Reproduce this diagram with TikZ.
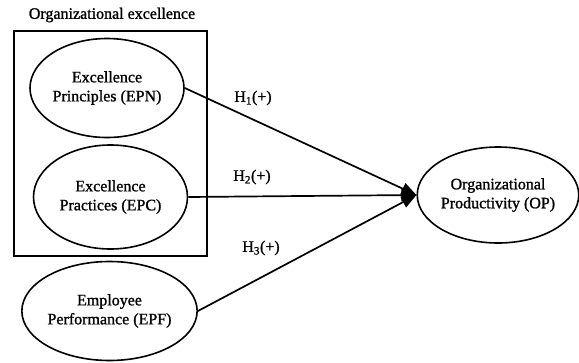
\documentclass[tikz,border=0pt]{standalone}
\usepackage{fontspec}
\setmainfont{Liberation Serif}[FakeBold=1.2]
\usetikzlibrary{shapes.geometric,arrows.meta}
\begin{document}
\begin{tikzpicture}[x=1pt,y=-1pt,
  every node/.style={font=\fontsize{16}{19}\selectfont},
  construct/.style={draw, line width=1.6pt, ellipse, inner sep=0pt, align=center,
    minimum width=154pt, minimum height=99pt},
  link/.style={line width=1.7pt, -{Triangle[length=15pt,width=12pt]}},
  hyp/.style={inner sep=0pt}
]
\useasboundingbox (0,0) rectangle (579,362);
\node[inner sep=0pt] (title) at (112,15) {Organizational excellence};
\node[draw, line width=1.7pt, minimum width=193pt, minimum height=225pt, inner sep=0pt] (box) at (110.5,143.5) {};
\node[construct] (epn) at (107,88) {Excellence\\Principles (EPN)};
\node[construct, minimum height=104pt] (epc) at (110.5,197) {Excellence\\Practices (EPC)};
\node[construct] (epf) at (109.5,311) {Employee\\Performance (EPF)};
\node[construct, minimum width=156pt, minimum height=96pt] (op) at (498,195) {Organizational\\Productivity (OP)};
\draw[link] (epn.east) -- (op.west);
\draw[link] (epc.east) -- (op.west);
\draw[link] (epf.east) -- (op.west);
\node[hyp] (h1) at (253,98) {H\textsubscript{1}(+)};
\node[hyp] (h2) at (252,177) {H\textsubscript{2}(+)};
\node[hyp] (h3) at (261,248) {H\textsubscript{3}(+)};
\end{tikzpicture}
\end{document}
